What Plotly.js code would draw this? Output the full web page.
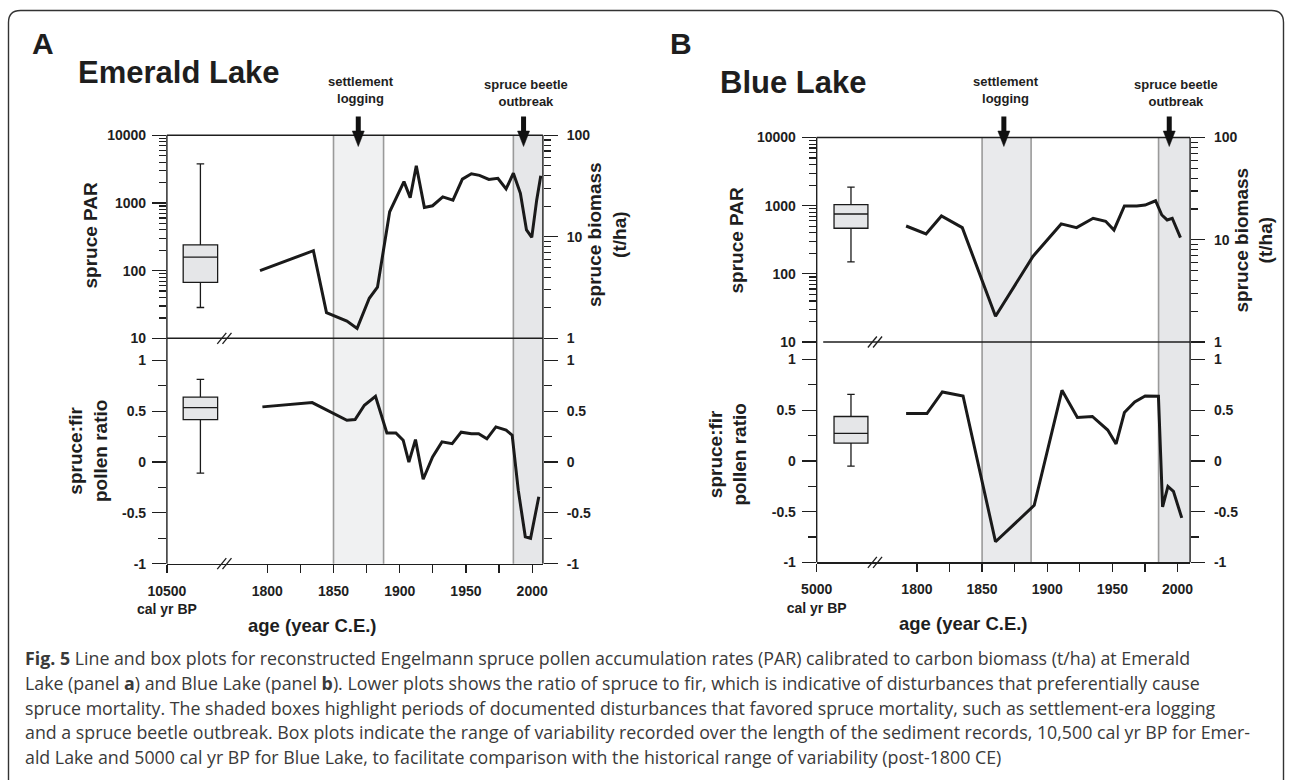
<!DOCTYPE html>
<html><head><meta charset="utf-8">
<script src="https://cdn.plot.ly/plotly-3.0.1.min.js"></script>
<style>html,body{margin:0;padding:0;background:#fff}#chart{width:1292px;height:780px}</style>
</head><body><div id="chart"></div>
<script>
// ---------------- data ----------------
// Panel A - Emerald Lake
const emeraldParYears = [1794.5,1834.8,1844.7,1860.1,1867.8,1877.0,1883.2,1892.4,1903.2,1907.9,1912.5,1918.6,1924.8,1932.5,1940.2,1947.3,1954.1,1960.2,1967.3,1974.1,1980.3,1985.8,1991.1,1995.7,1999.7,2003.4,2006.5];
const emeraldPar      = [100,197,24,18,14,39,57,740,2070,1200,3550,860,910,1230,1100,2250,2700,2560,2230,2320,1610,2750,1390,400,310,1100,2530];
const emeraldRatioYears = [1796.3,1833.9,1860.1,1866.3,1873.3,1881.7,1890.3,1897.1,1902.6,1906.9,1911.9,1917.7,1924.8,1931.9,1939.6,1946.4,1954.1,1959.6,1965.8,1972.6,1980.3,1984.9,1989.5,1994.8,1998.8,2005.0];
const emeraldRatio      = [0.542,0.584,0.41,0.417,0.558,0.646,0.286,0.286,0.214,-0.002,0.22,-0.17,0.05,0.198,0.18,0.293,0.277,0.277,0.228,0.345,0.313,0.264,-0.277,-0.735,-0.75,-0.342];
// box summaries of the whole record: [lower whisker, q1, median, q3, upper whisker]
const emeraldParBox   = [28.5, 67, 158, 240, 3770];
const emeraldRatioBox = [-0.11, 0.417, 0.535, 0.637, 0.813];

// Panel B - Blue Lake
const blueParYears = [1791.7,1807.0,1818.8,1834.8,1860.3,1889.0,1910.7,1922.5,1935.2,1944.8,1951.2,1959.2,1968.7,1975.1,1983.1,1987.9,1992.0,1995.9,2002.2];
const bluePar      = [503,385,706,476,23.8,180,540,476,653,590,440,990,990,1020,1180,730,617,653,340];
const blueRatioYears = [1791.7,1807.7,1819.5,1835.4,1860.3,1890.0,1911.3,1923.1,1934.6,1946.4,1952.8,1959.2,1967.1,1975.1,1985.3,1988.5,1992.6,1996.8,2003.2];
const blueRatio      = [0.467,0.467,0.68,0.64,-0.797,-0.438,0.696,0.428,0.438,0.304,0.167,0.477,0.582,0.64,0.637,-0.454,-0.252,-0.30,-0.562];
const blueParBox   = [150, 466, 755, 1035, 1875];
const blueRatioBox = [-0.052, 0.176, 0.271, 0.438, 0.657];

// disturbance periods (year C.E.) and arrow positions
const emeraldShade = [[1850, 1887.8], [1985.8, 2008.1]];
const blueShade    = [[1850, 1887.6], [1985.4, 2009.6]];
const eventLabels  = ['settlement<br>logging', 'spruce beetle<br>outbreak'];
const emeraldArrows = [1868.7, 1993.5];
const blueArrows    = [1866.7, 1993.6];
const emeraldLabelX = [1870.9, 1995.1];
const blueLabelX    = [1868.3, 1999.0];

// tick labels
const yearTicks = [1800,1825,1850,1875,1900,1925,1950,1975,2000];
const yearTickLabels = ['1800','','1850','','1900','','1950','','2000'];
const parTicks = [10,100,1000,10000];
const parTickLabels = ['10','100','1000','10000'];
const biomassTicks = [1,10,100];
const biomassTickLabels = ['1','10','100'];
const ratioTicks = [-1,-0.5,0,0.5,1];
const ratioTickLabels = ['-1','-0.5','0','0.5','1'];
const ratioMinorTicks = [-0.75,-0.25,0.25,0.75];
const emeraldStartLabel = '10500<br>cal yr BP';
const blueStartLabel = '5000<br>cal yr BP';

const captionLines = [
 '<b>Fig. 5</b> Line and box plots for reconstructed Engelmann spruce pollen accumulation rates (PAR) calibrated to carbon biomass (t/ha) at Emerald',
 'Lake (panel <b>a</b>) and Blue Lake (panel <b>b</b>). Lower plots shows the ratio of spruce to fir, which is indicative of disturbances that preferentially cause',
 'spruce mortality. The shaded boxes highlight periods of documented disturbances that favored spruce mortality, such as settlement-era logging',
 'and a spruce beetle outbreak. Box plots indicate the range of variability recorded over the length of the sediment records, 10,500 cal yr BP for Emer-',
 'ald Lake and 5000 cal yr BP for Blue Lake, to facilitate comparison with the historical range of variability (post-1800 CE)'
];

// ---------------- layout geometry (pixels) ----------------
const W = 1292, H = 780;
const fx = p => p / W, fy = p => 1 - p / H;
const A = {x0:166.9, x1:542.9, top:[135.3,338.3], bot:[360.3,563.7], range:[1724.2,2008.1], box:1749.5, brk:1767.6};
const B = {x0:816.7, x1:1190.1, top:[137.5,342.0], bot:[359.5,562.3], range:[1723.1,2009.6], box:1749.4, brk:1767.8};
const BOXW = 26;

const INK = '#1e1e1e';
const FONT = 'Liberation Sans, Arial, Helvetica, sans-serif';
const tickFont = {family: FONT, size: 14, color: INK, weight: 'bold'};

function logMinor(lo, hi) { const v = []; for (let e = lo; e < hi; e++) for (let m = 2; m <= 9; m++) v.push(m * Math.pow(10, e)); return v; }

function xAxis(P, anchor, startLabel) {
  return {domain:[fx(P.x0), fx(P.x1)], range:P.range, anchor:anchor, showline:true, linecolor:INK, linewidth:1.3,
    ticks:'outside', ticklen:8, tickwidth:1.3, tickcolor:INK, tickvals:[P.range[0]].concat(yearTicks),
    ticktext:[startLabel].concat(yearTickLabels), tickfont:tickFont, showgrid:false, zeroline:false, ticklabelstandoff:6};
}
function logAxis(dom, range, vals, text, minor, extra) {
  return Object.assign({domain:dom, type:'log', range:range, tickvals:vals, ticktext:text, ticks:'outside', ticklen:14,
    tickwidth:1.3, tickcolor:INK, tickfont:tickFont, showline:false, showgrid:false, zeroline:false, ticklabelstandoff:3,
    minor:{tickvals:minor, ticks:'outside', ticklen:7, tickwidth:1.2, tickcolor:INK, showgrid:false}}, extra);
}
function ratioAxis(dom, extra) {
  return Object.assign({domain:dom, range:[-1,1], tickvals:ratioTicks, ticktext:ratioTickLabels, ticks:'outside', ticklen:14,
    tickwidth:1.3, tickcolor:INK, tickfont:tickFont, showline:false, showgrid:false, zeroline:false, ticklabelstandoff:3,
    minor:{tickvals:ratioMinorTicks, ticks:'outside', ticklen:8, tickwidth:1.2, tickcolor:INK, showgrid:false}}, extra);
}

const layout = {
  width: W, height: H, margin:{l:0,r:0,t:0,b:0}, paper_bgcolor:'#fff', plot_bgcolor:'rgba(0,0,0,0)',
  showlegend:false, hovermode:false, font:{family:FONT, color:INK},
  xaxis: xAxis(A, 'y2', emeraldStartLabel),
  xaxis2: xAxis(B, 'y6', blueStartLabel),
  yaxis:  logAxis([fy(A.top[1]), fy(A.top[0])], [1,4], parTicks, parTickLabels, logMinor(1,4), {anchor:'x'}),
  yaxis2: ratioAxis([fy(A.bot[1]), fy(A.bot[0])], {anchor:'x'}),
  yaxis3: logAxis([fy(A.top[1]), fy(A.top[0])], [0,2], biomassTicks, biomassTickLabels, logMinor(0,2), {anchor:'x', overlaying:'y', side:'right', ticklabelstandoff:6}),
  yaxis4: ratioAxis([fy(A.bot[1]), fy(A.bot[0])], {anchor:'x', overlaying:'y2', side:'right', ticklabelstandoff:6}),
  yaxis5: logAxis([fy(B.top[1]), fy(B.top[0])], [1,4], parTicks, parTickLabels, logMinor(1,4), {anchor:'x2'}),
  yaxis6: ratioAxis([fy(B.bot[1]), fy(B.bot[0])], {anchor:'x2'}),
  yaxis7: logAxis([fy(B.top[1]), fy(B.top[0])], [0,2], biomassTicks, biomassTickLabels, logMinor(0,2), {anchor:'x2', overlaying:'y5', side:'right', ticklabelstandoff:6}),
  yaxis8: ratioAxis([fy(B.bot[1]), fy(B.bot[0])], {anchor:'x2', overlaying:'y6', side:'right', ticklabelstandoff:6}),
  shapes: [], annotations: []
};

// ---------------- decorations ----------------
function panelDecor(P, xref, shades, shadeColors, arrows, labelX, lineStart) {
  const S = layout.shapes, yTop = fy(P.top[0]), yBot = fy(P.bot[1]);
  const pxPerYr = (P.x1 - P.x0) / (P.range[1] - P.range[0]);
  shades.forEach((s, i) => {
    S.push({type:'rect', layer:'below', xref:xref, yref:'paper', x0:s[0], x1:s[1], y0:yBot, y1:yTop, fillcolor:shadeColors[i], line:{width:0}});
    S.push({type:'line', layer:'below', xref:xref, yref:'paper', x0:s[0], x1:s[0], y0:yBot, y1:yTop, line:{color:'#9a9a9a', width:1.6}});
    if (s[1] < P.range[1]) S.push({type:'line', layer:'below', xref:xref, yref:'paper', x0:s[1], x1:s[1], y0:yBot, y1:yTop, line:{color:'#9a9a9a', width:1.6}});
  });
  // frame lines
  const L = (x0,y0,x1,y1,w) => S.push({type:'line', xref:'paper', yref:'paper', x0:fx(x0), y0:fy(y0), x1:fx(x1), y1:fy(y1), line:{color:INK, width:w||1.4}});
  L(P.x0, P.top[0], P.x1, P.top[0]);
  L(P.x0 + lineStart, P.top[1], P.x1, P.top[1]);
  L(P.x0, P.top[0], P.x0, P.bot[1]);
  L(P.x1, P.top[0], P.x1, P.bot[1]);
  // axis break marks
  const bx = P.x0 + (P.brk - P.range[0]) * pxPerYr;
  [P.top[1], P.bot[1]].forEach(by => {
    [-2.6, 2.6].forEach(o => L(bx + o - 4.5, by + 5.5, bx + o + 4.5, by - 5.5, 1.3));
  });
  // arrows
  arrows.forEach(a => {
    const hw = 6 / pxPerYr;
    S.push({type:'line', xref:xref, yref:'paper', x0:a, x1:a, y0:fy(116.5), y1:fy(133), line:{color:'#111', width:5}});
    S.push({type:'path', xref:xref, yref:'paper', path:`M ${a-hw},${fy(131)} L ${a+hw},${fy(131)} L ${a},${fy(146.5)} Z`, fillcolor:'#111', line:{color:'#111', width:0.5}});
  });
  eventLabels.forEach((t, i) => layout.annotations.push({xref:xref, yref:'paper', x:labelX[i], y:fy(i === 0 ? 90.3 : 92.5), text:t, showarrow:false,
    xanchor:'center', yanchor:'middle', font:{family:FONT, size:13, color:INK, weight:'bold'}}));
}
panelDecor(A, 'x', emeraldShade, ['#f0f1f2','#e6e7e9'], emeraldArrows, emeraldLabelX, 0);
panelDecor(B, 'x2', blueShade, ['#e9eaec','#e6e7e9'], blueArrows, blueLabelX, 6.5);

// outer rounded border
(function(){
  const l = fx(8.5), r = fx(1283.5), t = fy(10.5), b = fy(800), rx = fx(12) , ry = 12 / H;
  layout.shapes.push({type:'path', xref:'paper', yref:'paper', line:{color:'#333', width:1.4},
    path:`M ${l},${b} L ${l},${t - ry} Q ${l},${t} ${l + rx},${t} L ${r - rx},${t} Q ${r},${t} ${r},${t - ry} L ${r},${b}`});
})();

// text annotations
const ann = (x, y, text, size, opts) => layout.annotations.push(Object.assign({xref:'paper', yref:'paper', x:fx(x), y:fy(y), text:text, showarrow:false,
  xanchor:'center', yanchor:'middle', font:{family:FONT, size:size, color:INK, weight:'bold'}}, opts || {}));
ann(30, 43, 'A', 30, {xanchor:'left'});
ann(76, 72, 'Emerald Lake', 31, {xanchor:'left'});
ann(668, 43, 'B', 30, {xanchor:'left'});
ann(718, 82.5, 'Blue Lake', 31, {xanchor:'left'});
// axis titles
ann(89.5, 235, 'spruce PAR', 19, {textangle:-90});
ann(88, 451, 'spruce:fir<br>pollen ratio', 19, {textangle:-90});
ann(607, 235, 'spruce biomass<br>(t/ha)', 19, {textangle:-90});
ann(735.5, 240, 'spruce PAR', 19, {textangle:-90});
ann(727.5, 454, 'spruce:fir<br>pollen ratio', 19, {textangle:-90});
ann(1253.5, 240, 'spruce biomass<br>(t/ha)', 19, {textangle:-90});
ann(312.5, 625, 'age (year C.E.)', 18.5);
ann(964, 623, 'age (year C.E.)', 18.5);
// caption
const capY = [658, 683, 707.5, 732, 756.5];
captionLines.forEach((t, i) => ann(23, capY[i], t, 17.8, {xanchor:'left', font:{family:'Open Sans, Noto Sans, sans-serif', size:17.8, color:'#3a3a3a'}}));

// ---------------- traces ----------------
const lineStyle = {color:'#1a1a1a', width:3};
function boxTrace(xpos, st, xa, ya) {
  return {type:'box', x:[xpos], lowerfence:[st[0]], q1:[st[1]], median:[st[2]], q3:[st[3]], upperfence:[st[4]], width:BOXW,
    xaxis:xa, yaxis:ya, fillcolor:'#e5e6e8', line:{color:'#1a1a1a', width:1.3}, whiskerwidth:0.22, boxpoints:false, hoverinfo:'skip'};
}
const traces = [
  {type:'scatter', mode:'lines', x:emeraldParYears, y:emeraldPar, xaxis:'x', yaxis:'y', line:lineStyle},
  {type:'scatter', mode:'lines', x:emeraldRatioYears, y:emeraldRatio, xaxis:'x', yaxis:'y2', line:lineStyle},
  {type:'scatter', mode:'lines', x:blueParYears, y:bluePar, xaxis:'x2', yaxis:'y5', line:lineStyle},
  {type:'scatter', mode:'lines', x:blueRatioYears, y:blueRatio, xaxis:'x2', yaxis:'y6', line:lineStyle},
  boxTrace(A.box, emeraldParBox, 'x', 'y'),
  boxTrace(A.box, emeraldRatioBox, 'x', 'y2'),
  boxTrace(B.box, blueParBox, 'x2', 'y5'),
  boxTrace(B.box, blueRatioBox, 'x2', 'y6'),
  // carriers for the secondary (right-hand) axes
  {type:'scatter', mode:'lines', x:[], y:[], xaxis:'x', yaxis:'y3'},
  {type:'scatter', mode:'lines', x:[], y:[], xaxis:'x', yaxis:'y4'},
  {type:'scatter', mode:'lines', x:[], y:[], xaxis:'x2', yaxis:'y7'},
  {type:'scatter', mode:'lines', x:[], y:[], xaxis:'x2', yaxis:'y8'}
];

Plotly.newPlot('chart', traces, layout, {staticPlot:true, displayModeBar:false});
</script>
</body></html>
